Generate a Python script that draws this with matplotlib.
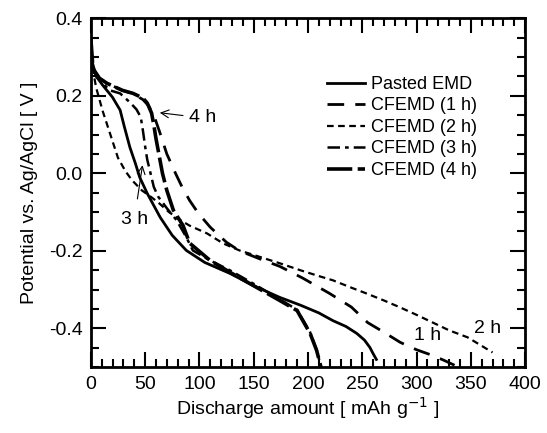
import matplotlib
matplotlib.use('Agg')
import matplotlib.pyplot as plt
from matplotlib.ticker import MultipleLocator

plt.rcParams['font.family'] = ['Liberation Sans', 'DejaVu Sans']

# Discharge curves (x: mAh/g, y: V vs Ag/AgCl)
emd_x = [0, 1, 5, 11, 20, 27, 31, 36, 41, 45, 52, 64, 75, 88, 105, 128, 150, 174,
         193, 210, 223, 235, 245, 252, 257, 260, 263]
emd_y = [0.33, 0.29, 0.25, 0.227, 0.196, 0.163, 0.119, 0.067, 0.026, -0.01, -0.052,
         -0.114, -0.16, -0.199, -0.23, -0.258, -0.29, -0.32, -0.34, -0.36, -0.38,
         -0.395, -0.413, -0.43, -0.449, -0.465, -0.48]

h1_x = [0, 1, 2, 8, 15, 29, 39, 48, 53, 58, 63, 70, 78, 84, 91, 99, 110, 125, 137,
        155, 174, 195, 220, 240, 255, 270, 285, 300, 315, 325, 335]
h1_y = [0.34, 0.30, 0.27, 0.245, 0.232, 0.214, 0.205, 0.19, 0.175, 0.15, 0.11, 0.05,
        0.0, -0.035, -0.07, -0.103, -0.139, -0.178, -0.2, -0.22, -0.24, -0.27, -0.31,
        -0.345, -0.385, -0.41, -0.436, -0.455, -0.47, -0.482, -0.495]

h2_x = [0, 1, 3, 5, 11, 18, 25, 32, 38, 47, 55, 62, 72, 82, 91, 107, 122, 137, 155,
        174, 193, 210, 223, 240, 254, 270, 285, 300, 315, 330, 347, 360, 370]
h2_y = [0.33, 0.29, 0.25, 0.22, 0.16, 0.1, 0.04, 0.005, -0.018, -0.044, -0.06, -0.075,
        -0.1, -0.12, -0.135, -0.155, -0.181, -0.199, -0.215, -0.232, -0.25, -0.265,
        -0.276, -0.295, -0.31, -0.328, -0.346, -0.365, -0.385, -0.405, -0.423,
        -0.445, -0.462]

h3_x = [0, 1, 2, 5.5, 17.5, 27, 36, 42, 46, 48, 50, 52, 55, 58, 62, 70, 79, 88, 94,
        110, 128, 150, 174, 190, 202, 208, 212]
h3_y = [0.33, 0.29, 0.27, 0.248, 0.214, 0.206, 0.183, 0.165, 0.145, 0.11, 0.07, 0.035,
        0.0, -0.035, -0.06, -0.09, -0.121, -0.165, -0.199, -0.225, -0.25, -0.285,
        -0.325, -0.352, -0.41, -0.455, -0.5]

h4_x = [0, 1, 2, 8, 15, 29, 39, 48, 52, 56, 58, 60, 63, 66, 70, 76, 85, 91, 110, 128,
        150, 174, 190, 202, 208, 212]
h4_y = [0.35, 0.31, 0.27, 0.245, 0.232, 0.214, 0.206, 0.194, 0.181, 0.155, 0.125, 0.09,
        0.045, 0.0, -0.044, -0.095, -0.135, -0.18, -0.225, -0.255, -0.29, -0.328,
        -0.354, -0.413, -0.457, -0.5]

fig = plt.figure(figsize=(5.47, 4.33), dpi=100)
ax = fig.add_axes([0.166, 0.152, 0.794, 0.806])

ax.plot(emd_x, emd_y, color='black', lw=2.0, ls='-', label='Pasted EMD')
ax.plot(h1_x, h1_y, color='black', lw=2.0, dashes=(6, 4), label='CFEMD (1 h)')
ax.plot(h2_x, h2_y, color='black', lw=1.6, dashes=(3, 2), label='CFEMD (2 h)')
ax.plot(h3_x, h3_y, color='black', lw=1.8, dashes=(5, 2, 1.5, 2), label='CFEMD (3 h)')
ax.plot(h4_x, h4_y, color='black', lw=2.6, dashes=(7, 1.5), label='CFEMD (4 h)')

fs = 14
ax.annotate('4 h', xy=(61, 0.157), xytext=(90, 0.143), fontsize=fs, va='center',
            arrowprops=dict(arrowstyle='->', color='black', lw=0.8))
ax.annotate('3 h', xy=(48, 0.028), xytext=(40, -0.12), fontsize=fs, ha='center',
            va='center', arrowprops=dict(arrowstyle='->', color='black', lw=0.8,
                                         shrinkA=7))
ax.text(310, -0.418, '1 h', fontsize=fs, ha='center', va='center')
ax.text(365, -0.400, '2 h', fontsize=fs, ha='center', va='center')

ax.set_xlim(0, 400)
ax.set_ylim(-0.5, 0.4)
ax.xaxis.set_major_locator(MultipleLocator(50))
ax.xaxis.set_minor_locator(MultipleLocator(10))
ax.yaxis.set_major_locator(MultipleLocator(0.2))
ax.yaxis.set_minor_locator(MultipleLocator(0.05))
ax.tick_params(which='both', direction='in', top=True, right=True, labelsize=fs,
               width=1.5, pad=6)
ax.tick_params(which='major', length=11)
ax.tick_params(which='minor', length=6)
ax.set_yticks([0.4, 0.2, 0.0, -0.2, -0.4])
ax.set_yticklabels(['0.4', '0.2', '0.0', '-0.2', '-0.4'])
for s in ax.spines.values():
    s.set_linewidth(2)

ax.set_xlabel('Discharge amount [ mAh g$^{-1}$ ]', fontsize=fs, labelpad=2)
ax.set_ylabel('Potential vs. Ag/AgCl [ V ]', fontsize=fs, labelpad=8)

ax.legend(loc='upper left', bbox_to_anchor=(0.536, 0.845), frameon=False, fontsize=13,
          handlelength=2.1, handletextpad=0.3, labelspacing=0.25,
          borderpad=0.2, borderaxespad=0)

fig.savefig('out.png', dpi=100)
